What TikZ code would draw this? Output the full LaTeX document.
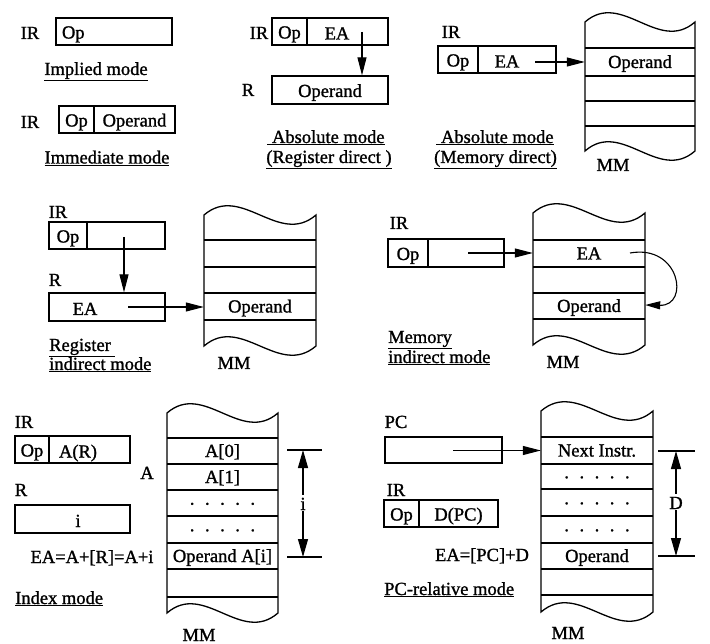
\documentclass[tikz,border=0pt]{standalone}
\usepackage{fontspec}
\setmainfont{Liberation Serif}[FakeBold=1.2]
\usetikzlibrary{arrows.meta}

\newcommand{\fivedots}{·\hspace{9pt}·\hspace{9pt}·\hspace{9pt}·\hspace{9pt}·}
% main memory outline: left x, width, top wave, bottom wave
\newcommand{\mmblock}[4]{%
  \draw[mmline] (#1,#3) .. controls +(#2/3,-32) and +(-#2/3,32) .. ++(#2,0)
    -- (#1+#2,#4) .. controls +(-#2/3,32) and +(#2/3,-32) .. ++(-#2,0) -- cycle;}

\begin{document}
\begin{tikzpicture}[x=1pt, y=-1pt,
    every node/.style={font=\fontsize{18.5}{20}\selectfont, text height=14pt, text depth=0pt},
    reg/.style={draw, line width=1.3pt, minimum height=27pt, inner sep=0pt},
    cell/.style={minimum width=112pt, minimum height=26pt, inner sep=0pt},
    mmline/.style={line width=1.3pt},
    arr/.style={line width=1.1pt, -{Triangle[length=18pt, width=9pt]}},
    dimarr/.style={line width=1.1pt, -{Triangle[length=18pt, width=10pt]}},
    capt/.style={anchor=west, inner xsep=0pt}
]
\useasboundingbox (0,0) rectangle (710,644);

% Implied mode
\node (ir1) at (30,32) {IR};
\node[reg, minimum width=116pt, text width=104pt, inner xsep=6pt, align=left] (imp1) at (114,31.5) {Op};
\node (cap1) at (96,68) {\underline{Implied mode}};

% Immediate mode
\node (ir2) at (30,121) {IR};
\node[reg, minimum width=35pt] (op2) at (76.5,119.5) {Op};
\node[reg, minimum width=81pt] (opd2) at (134.5,119.5) {Operand};
\node (cap2) at (107,156.5) {\underline{Immediate mode}};

% Absolute mode, register direct
\node (ir3) at (259,32) {IR};
\node[reg, minimum width=35pt] (op3) at (289.5,31.5) {Op};
\node[reg, minimum width=81pt] (ea3) at (347.5,31.5) {};
\node (ea3t) at (337,32.5) {EA};
\coordinate (p3) at (362,32);
\node (r3) at (248,89) {R};
\node[reg, minimum width=116pt, minimum height=28pt] (opd3) at (330,90) {Operand};
\draw[arr] (p3) -- (p3 |- opd3.north);
\node (cap3a) at (326,136) {\underline{\ Absolute mode}};
\node (cap3b) at (329,156) {\underline{(Register direct )}};

% Absolute mode, memory direct
\node (ir4) at (451,31) {IR};
\node[reg, minimum width=40pt] (op4) at (458,59.5) {Op};
\node[reg, minimum width=78pt] (ea4) at (517,59.5) {};
\node (ea4t) at (507,60.5) {EA};
\coordinate (p4) at (535,62);
\mmblock{585}{110}{22}{151}
\foreach \y in {48,76,101,126} \draw[mmline] (585,\y) -- ++(110,0);
\node[cell, minimum width=110pt] (opd4) at (640,61) {Operand};
\draw[arr] (p4) -- (p4 -| opd4.west);
\node (mm4) at (613,164) {MM};
\node (cap4a) at (495,136) {\underline{\ Absolute mode}};
\node (cap4b) at (495.5,156) {\underline{(Memory direct)}};

% Register indirect mode
\node (ir5) at (58,211) {IR};
\node[reg, minimum width=38pt] (op5) at (68,235.5) {Op};
\node[reg, minimum width=78pt] (ad5) at (126,235.5) {};
\coordinate (p5) at (124,237);
\node (r5) at (55,279) {R};
\node[reg, minimum width=116pt, minimum height=28pt] (rr5) at (107,307) {};
\node (ea5) at (85,308) {EA};
\coordinate (q5) at (128,307);
\draw[arr] (p5) -- (p5 |- rr5.north);
\mmblock{204}{112}{215}{346}
\foreach \y in {240,267,293,320} \draw[mmline] (204,\y) -- ++(112,0);
\node[cell] (opd5) at (260,305.5) {Operand};
\draw[arr] (q5) -- (q5 -| opd5.west);
\node (mm5) at (234,362) {MM};
\node[capt] (cap5a) at (49,344) {\underline{Register\ }};
\node[capt] (cap5b) at (49,363) {\underline{indirect mode}};

% Memory indirect mode
\node (ir6) at (399,222) {IR};
\node[reg, minimum width=40pt, minimum height=28pt] (op6) at (408,253) {Op};
\node[reg, minimum width=76pt, minimum height=28pt] (ad6) at (466,253) {};
\coordinate (p6) at (468,253);
\mmblock{533}{112}{213}{345}
\foreach \y in {240,267,293,319} \draw[mmline] (533,\y) -- ++(112,0);
\node[cell] (ea6) at (589,252.5) {EA};
\node[cell] (opd6) at (589,305) {Operand};
\draw[arr] (p6) -- (p6 -| ea6.west);
\coordinate (q6) at (630,253);
\draw[line width=1.1pt, -{Triangle[length=15pt, width=8pt]}] (q6) .. controls (680,244) and (690,306) .. (opd6.east);
\node (mm6) at (563,361) {MM};
\node[capt] (cap6a) at (388,336) {\underline{Memory}};
\node[capt] (cap6b) at (388,356) {\underline{indirect mode}};

% Index mode
\node (ir7) at (24,421) {IR};
\node[reg, minimum width=34pt] (op7) at (32,449.5) {Op};
\node[reg, minimum width=81pt] (ar7) at (89.5,449.5) {};
\node (ar7t) at (78,450.5) {A(R)};
\node (r7) at (21,489) {R};
\node[reg, minimum width=115pt, minimum height=28pt] (rr7) at (72.5,519) {};
\node (i7t) at (78,520) {i};
\node (a7) at (147,472) {A};
\node (ea7) at (92,556) {EA=A+[R]=A+i};
\node[capt] (cap7) at (15,597) {\underline{Index mode}};
\mmblock{167}{111}{413}{613}
\foreach \y in {438,464,490,516,543,569,597} \draw[mmline] (167,\y) -- ++(111,0);
\node[cell, minimum width=111pt] (m70) at (222.5,450) {A[0]};
\node[cell, minimum width=111pt] (m71) at (222.5,476) {A[1]};
\node[cell, minimum width=111pt] (m72) at (222.5,503) {\fivedots};
\node[cell, minimum width=111pt] (m73) at (222.5,529.5) {\fivedots};
\node[cell, minimum width=111pt] (m74) at (222.5,555) {Operand A[i]};
\coordinate (d7a) at (287,450);
\coordinate (d7b) at (322,450);
\coordinate (d7c) at (287,557);
\coordinate (d7d) at (322,557);
\draw[mmline] (d7a) -- (d7b);
\draw[mmline] (d7c) -- (d7d);
\node[inner sep=1pt] (i7) at (303,503) {i};
\draw[dimarr] (i7) -- (i7 |- d7a);
\draw[dimarr] (i7) -- (i7 |- d7c);
\node (mm7) at (199,634) {MM};

% PC-relative mode
\node (pc8) at (396,421) {PC};
\node[reg, minimum width=117pt, minimum height=26pt] (pcr8) at (443.5,450) {};
\coordinate (p8) at (453,450.5);
\node (ir8) at (396,489) {IR};
\node[reg, minimum width=35pt] (op8) at (401.5,513.5) {Op};
\node[reg, minimum width=79pt] (d8) at (458.5,513.5) {D(PC)};
\node (ea8) at (482,554) {EA=[PC]+D};
\node[capt] (cap8) at (384,588) {\underline{PC-relative mode}};
\mmblock{541}{112}{411}{612}
\foreach \y in {437,464,489,516,543,569,595} \draw[mmline] (541,\y) -- ++(112,0);
\node[cell] (m80) at (597,449.5) {Next Instr.};
\node[cell] (m81) at (597,476.5) {\fivedots};
\node[cell] (m82) at (597,502.5) {\fivedots};
\node[cell] (m83) at (597,529.5) {\fivedots};
\node[cell] (m84) at (597,555) {Operand};
\draw[arr] (p8) -- (p8 -| m80.west);
\coordinate (d8a) at (658,451);
\coordinate (d8b) at (695,451);
\coordinate (d8c) at (658,556);
\coordinate (d8d) at (695,556);
\draw[mmline] (d8a) -- (d8b);
\draw[mmline] (d8c) -- (d8d);
\node[inner sep=1pt] (dd8) at (676,502) {D};
\draw[dimarr] (dd8) -- (dd8 |- d8a);
\draw[dimarr] (dd8) -- (dd8 |- d8c);
\node (mm8) at (568,632) {MM};
\end{tikzpicture}
\end{document}
